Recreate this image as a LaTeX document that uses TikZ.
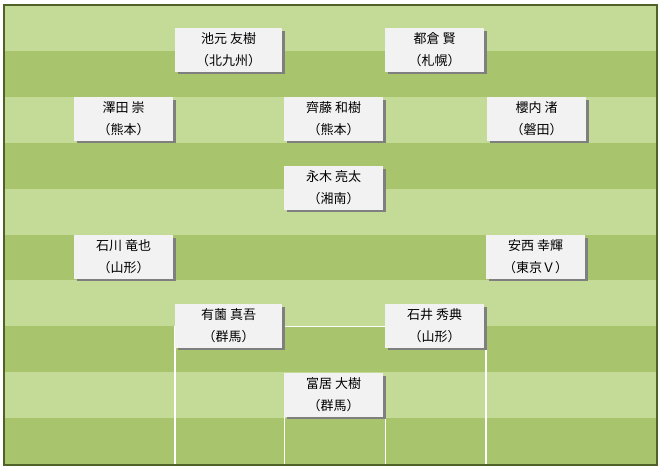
\documentclass[tikz,border=0pt]{standalone}
\usepackage{fontspec}
\setmainfont{Noto Sans CJK JP}
\usetikzlibrary{shadows}
\definecolor{fieldlight}{HTML}{C4DB97}
\definecolor{fielddark}{HTML}{A8C56E}
\definecolor{fieldborder}{HTML}{4F6228}
\definecolor{boxfill}{HTML}{F2F2F2}
\definecolor{boxshadow}{HTML}{7F7F7F}
\begin{document}
\begin{tikzpicture}[x=1pt,y=-1pt,
  player/.style={anchor=north west, fill=boxfill, inner sep=0pt,
    minimum width=99pt, minimum height=43.5pt, align=center,
    font=\fontsize{13}{22}\selectfont, text=black,
    general shadow={fill=boxshadow, shadow xshift=2.5pt, shadow yshift=-2.5pt}},
  wide/.style={minimum width=107pt},
  fieldline/.style={draw=white, line width=1.4pt}]
\useasboundingbox (0,0) rectangle (662,471);
% stripes
\foreach \i in {0,...,9}{
  \pgfmathsetmacro\ya{5+\i*45.9}
  \pgfmathsetmacro\yb{5+(\i+1)*45.9}
  \pgfmathparse{mod(\i,2)==0 ? 1 : 0}
  \ifnum\pgfmathresult=1
    \fill[fieldlight] (4,\ya) rectangle (657,\yb);
  \else
    \fill[fielddark] (4,\ya) rectangle (657,\yb);
  \fi
}
% field lines
\coordinate (pa1) at (175,465);
\coordinate (pa2) at (175,326.5);
\coordinate (pa3) at (486,326.5);
\coordinate (pa4) at (486,465);
\draw[fieldline] (pa1) -- (pa2) -- (pa3) -- (pa4);
\coordinate (ga1) at (284.5,465);
\coordinate (ga2) at (284.5,400);
\coordinate (ga3) at (385.5,400);
\coordinate (ga4) at (385.5,465);
\draw[fieldline] (ga1) -- (ga2) -- (ga3) -- (ga4);
% border
\draw[fieldborder, line width=1.3pt] (4,5) rectangle (657,465);
% players
\node[player, wide] (ikemoto) at (175,28) {池元 友樹\\（北九州）};
\node[player] (tokura) at (385,28) {都倉 賢\\（札幌）};
\node[player] (sawada) at (74,97) {澤田 崇\\（熊本）};
\node[player] (saito) at (284,97) {齊藤 和樹\\（熊本）};
\node[player] (sakurauchi) at (487,97) {櫻内 渚\\（磐田）};
\node[player] (nagaki) at (284,166) {永木 亮太\\（湘南）};
\node[player] (ishikawa) at (74,235) {石川 竜也\\（山形）};
\node[player] (anzai) at (486,235) {安西 幸輝\\（東京Ｖ）};
\node[player, wide] (arizono) at (175,304) {有薗 真吾\\（群馬）};
\node[player] (ishii) at (385,304) {石井 秀典\\（山形）};
\node[player] (tomii) at (284,373) {富居 大樹\\（群馬）};
\end{tikzpicture}
\end{document}
